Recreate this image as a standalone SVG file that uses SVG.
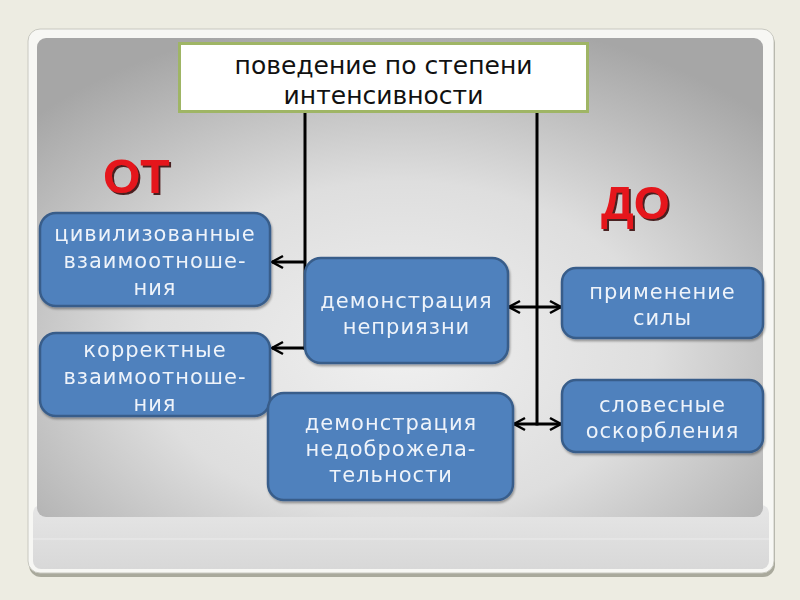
<svg xmlns="http://www.w3.org/2000/svg" width="800" height="600" viewBox="0 0 800 600">
<defs>
  <radialGradient id="panel" cx="50%" cy="65%" r="70%" fx="50%" fy="65%">
    <stop offset="0" stop-color="#f0f0f0"/>
    <stop offset="0.5" stop-color="#dedede"/>
    <stop offset="1" stop-color="#a6a6a6"/>
  </radialGradient>
  <linearGradient id="foot" x1="0" y1="0" x2="0" y2="1">
    <stop offset="0" stop-color="#e6e6e6"/>
    <stop offset="1" stop-color="#d8d8d8"/>
  </linearGradient>
  <marker id="ah" markerUnits="userSpaceOnUse" markerWidth="16" markerHeight="16" viewBox="-13 -8 16 16" refX="0" refY="0" orient="auto-start-reverse">
    <path d="M-11,-6 L0,0 L-11,6" fill="none" stroke="#000" stroke-width="2.5"/>
  </marker>
  <filter id="sh" x="-10%" y="-10%" width="130%" height="130%">
    <feDropShadow dx="1" dy="2" stdDeviation="1.2" flood-color="#000" flood-opacity="0.35"/>
  </filter>
  <filter id="tsh" x="-10%" y="-10%" width="130%" height="130%">
    <feDropShadow dx="2" dy="2" stdDeviation="0.6" flood-color="#3a0a0a" flood-opacity="0.9"/>
  </filter>
</defs>
<style>
  .box { fill: #4f81bd; stroke: #385d8a; stroke-width: 2.5; }
  .bt { font-family: "DejaVu Sans", Verdana, sans-serif; font-size: 21px; letter-spacing: 1px; fill: #eef3fa; text-anchor: middle; }
  .tt { font-family: "DejaVu Sans", sans-serif; font-size: 25px; fill: #111; text-anchor: middle; }
  .big { font-family: "Liberation Sans", Arial, sans-serif; font-weight: bold; fill: #e5161b; filter: url(#tsh); }
  .ln { stroke: #000; stroke-width: 3; fill: none; }
</style>
<rect width="800" height="600" fill="#edece2"/>
<!-- card -->
<rect x="29" y="32" width="746" height="545" rx="12" fill="#a9a99c"/>
<rect x="28" y="29" width="746" height="544" rx="12" fill="#f7f7f4" stroke="#c8c8c0" stroke-width="1"/>
<rect x="33" y="505" width="736" height="64" rx="8" fill="url(#foot)"/>
<line x1="33" y1="539" x2="769" y2="539" stroke="#ececec" stroke-width="1"/>
<rect x="37" y="38" width="726" height="479" rx="9" fill="url(#panel)"/>

<g id="connectors">
  <line class="ln" x1="305" y1="112" x2="305" y2="350"/>
  <line class="ln" x1="537" y1="112" x2="537" y2="425.5"/>
  <line class="ln" x1="305" y1="262" x2="272" y2="262" marker-end="url(#ah)"/>
  <line class="ln" x1="306.5" y1="348" x2="272" y2="348" marker-end="url(#ah)"/>
  <line class="ln" x1="509" y1="307" x2="561" y2="307" marker-start="url(#ah)" marker-end="url(#ah)"/>
  <line class="ln" x1="514" y1="424" x2="561" y2="424" marker-start="url(#ah)" marker-end="url(#ah)"/>
</g>

<g id="title">
  <rect x="179.5" y="43.5" width="408" height="68" fill="#ffffff" stroke="#9fb565" stroke-width="3"/>
  <text class="tt" x="383.5" y="74">поведение по степени</text>
  <text class="tt" x="383.5" y="104">интенсивности</text>
</g>

<g id="ot">
  <text class="big" x="103" y="193" font-size="48">ОТ</text>
</g>
<g id="do">
  <text class="big" x="601" y="219" font-size="46">ДО</text>
</g>

<g id="civil" filter="url(#sh)">
  <rect class="box" x="40" y="213" width="230" height="93" rx="16"/>
  <text class="bt" x="155" y="241">цивилизованные</text>
  <text class="bt" x="155" y="268">взаимоотноше-</text>
  <text class="bt" x="155" y="295">ния</text>
</g>
<g id="correct" filter="url(#sh)">
  <rect class="box" x="40" y="333" width="230" height="83" rx="16"/>
  <text class="bt" x="155" y="357">корректные</text>
  <text class="bt" x="155" y="384">взаимоотноше-</text>
  <text class="bt" x="155" y="411">ния</text>
</g>
<g id="dislike" filter="url(#sh)">
  <rect class="box" x="305" y="258" width="203" height="105" rx="16"/>
  <text class="bt" x="406.5" y="308">демонстрация</text>
  <text class="bt" x="406.5" y="334">неприязни</text>
</g>
<g id="malevolence" filter="url(#sh)">
  <rect class="box" x="268" y="393" width="245" height="107" rx="16"/>
  <text class="bt" x="391" y="430">демонстрация</text>
  <text class="bt" x="391" y="456">недоброжела-</text>
  <text class="bt" x="391" y="482">тельности</text>
</g>
<g id="force" filter="url(#sh)">
  <rect class="box" x="562" y="268" width="201" height="70" rx="14"/>
  <text class="bt" x="662.5" y="299">применение</text>
  <text class="bt" x="662.5" y="325">силы</text>
</g>
<g id="insults" filter="url(#sh)">
  <rect class="box" x="562" y="380" width="201" height="72" rx="14"/>
  <text class="bt" x="662.5" y="412">словесные</text>
  <text class="bt" x="662.5" y="438">оскорбления</text>
</g>
</svg>
